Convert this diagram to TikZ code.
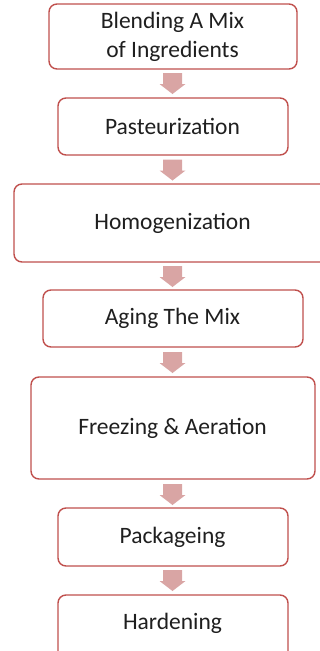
\documentclass[tikz,border=0pt]{standalone}
\usepackage{fontspec}
\setmainfont{Carlito}
\definecolor{boxline}{RGB}{192,80,77}
\definecolor{arrowfill}{RGB}{217,165,164}
\begin{document}
\begin{tikzpicture}[x=1pt,y=-1pt,
  box/.style={draw=boxline,line width=1.4pt,rounded corners=8pt,fill=white},
  label/.style={font=\fontsize{23.5}{29}\selectfont,text=black!88,align=center,inner sep=0pt},
  blk/.style={fill=arrowfill,draw=none}]
\useasboundingbox (0,0) rectangle (320,651);
\clip (0,0) rectangle (320,651);
% boxes
\draw[box] (49,4) rectangle (297,69);
\draw[box] (58,98) rectangle (288,155);
\draw[box] (14,184) rectangle (335,262);
\draw[box] (43,290) rectangle (303,347);
\draw[box] (31,377) rectangle (315,479);
\draw[box] (58,508) rectangle (288,566);
\draw[box] (58,595) rectangle (288,660);
% labels
\node[label] (n1) at (172.5,36.5) {Blending A Mix\\of Ingredients};
\node[label] (n2) at (172.5,126.5) {Pasteurization};
\node[label] (n3) at (172.5,223) {Homogenization};
\node[label] (n4) at (172.5,318.5) {Aging The Mix};
\node[label] (n5) at (172.5,428) {Freezing \& Aeration};
\node[label] (n6) at (172.5,537) {Packageing};
\node[label] (n7) at (172.5,623) {Hardening};
% block arrows
\foreach \t in {73,159.5,266,352,484,570}{
  \fill[blk] (163,\t) -- (182,\t) -- (182,\t+11) -- (185.5,\t+11) -- (172.5,\t+21) -- (159.5,\t+11) -- (163,\t+11) -- cycle;
}
\end{tikzpicture}
\end{document}
